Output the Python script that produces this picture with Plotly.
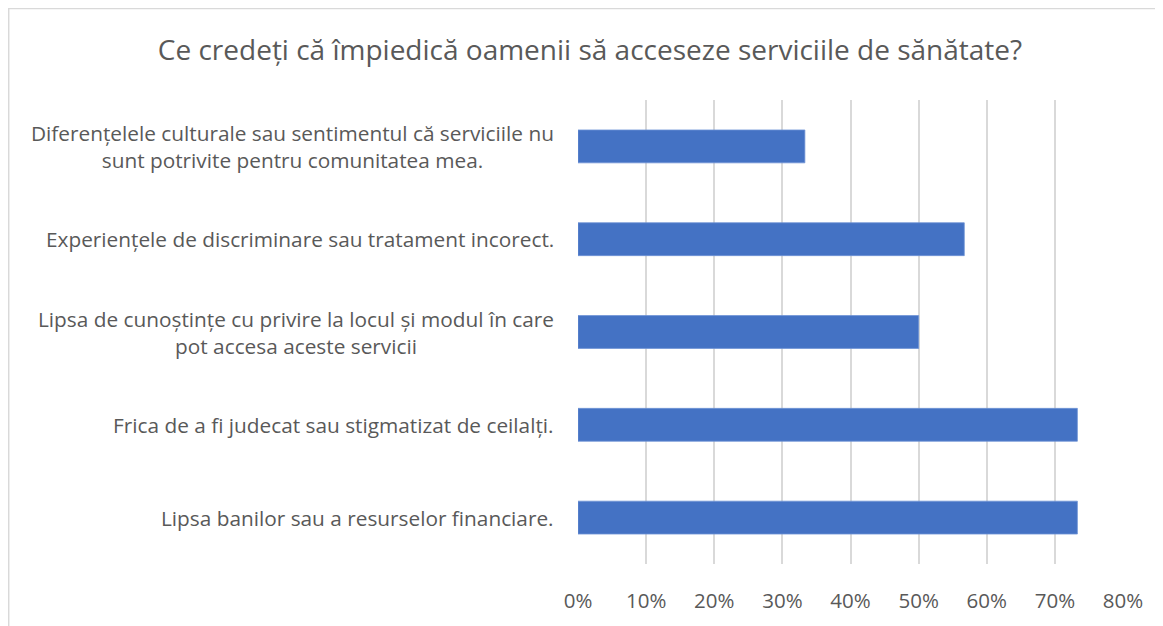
import plotly.graph_objects as go

categories = [
    "Lipsa banilor sau a resurselor financiare.",
    "Frica de a fi judecat sau stigmatizat de ceilalți.",
    "Lipsa de cunoștințe cu privire la locul și modul în care<br>pot accesa aceste servicii",
    "Experiențele de discriminare sau tratament incorect.",
    "Diferențelele culturale sau sentimentul că serviciile nu<br>sunt potrivite pentru comunitatea mea.",
]
values = [0.733, 0.733, 0.50, 0.567, 0.333]
tick_vals = [0, 0.1, 0.2, 0.3, 0.4, 0.5, 0.6, 0.7, 0.8]
tick_text = ["0%", "10%", "20%", "30%", "40%", "50%", "60%", "70%", "80%"]

FONT = "Open Sans"
GREY = "#595959"

# page body has an 8px margin, so the figure is offset by 8px
OFF = 8
W, H = 1163 - OFF, 626 - OFF
ML, MR, MT, MB = 578 - OFF, 40, 100 - OFF, 59

fig = go.Figure()

fig.add_trace(go.Bar(
    x=values,
    y=categories,
    orientation="h",
    marker=dict(color="#4472C4", line=dict(color="#6f93d6", width=0.8)),
    hoverinfo="x+y",
))

# category labels as annotations so multi-line text is centred like Excel
for cat in categories:
    fig.add_annotation(
        x=-22 / (W - ML - MR), xref="paper", y=cat, yref="y",
        text=cat, showarrow=False,
        xanchor="right", yanchor="middle", align="center",
        font=dict(family=FONT, size=20.8, color=GREY),
    )

# chart border (top and left edges visible in the reference)
pw = W - ML - MR
ph = H - MT - MB
def px(x):
    return (x - OFF - ML) / pw
def py(y):
    return (H - MB - (y - OFF)) / ph

fig.add_shape(type="line", xref="paper", yref="paper",
              x0=px(8), x1=px(1200), y0=py(8), y1=py(8),
              line=dict(color="#d9d9d9", width=1.5))
fig.add_shape(type="line", xref="paper", yref="paper",
              x0=px(8.7), x1=px(8.7), y0=py(8), y1=py(700),
              line=dict(color="#d9d9d9", width=1.5))

fig.update_layout(
    width=W, height=H,
    margin=dict(l=ML, r=MR, t=MT, b=MB),
    paper_bgcolor="white",
    plot_bgcolor="white",
    showlegend=False,
    bargap=0.646,
    title=dict(
        text="Ce credeți că împiedică oamenii să acceseze serviciile de sănătate?",
        x=(590 - OFF) / W, xanchor="center", y=1 - (50 - OFF) / H, yanchor="middle",
        font=dict(family=FONT, size=28, color=GREY),
    ),
    xaxis=dict(
        range=[0, 0.8],
        tickvals=tick_vals,
        ticktext=tick_text,
        showgrid=True,
        gridcolor="#d9d9d9",
        gridwidth=1.5,
        zeroline=False,
        showline=False,
        ticks="",
        ticklabelstandoff=22,
        tickfont=dict(family=FONT, size=20.5, color=GREY),
        fixedrange=True,
    ),
    yaxis=dict(
        showticklabels=False,
        showgrid=False,
        zeroline=False,
        showline=False,
        ticks="",
        fixedrange=True,
    ),
)

fig.write_html("out.html")
